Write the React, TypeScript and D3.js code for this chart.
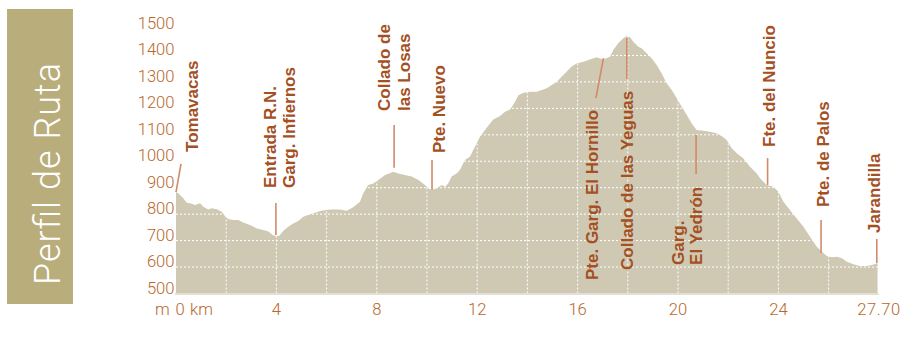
import React from "react";
import * as d3 from "d3";

// ---- data ----
const KM = [
  0.0, 0.09, 0.29, 0.43, 0.56, 0.76, 0.96, 1.09, 1.29, 1.42, 1.62, 1.82, 1.95, 2.08, 2.28, 2.48, 2.68, 2.95,
  3.22, 3.48, 3.68, 3.85, 3.98, 4.12, 4.27, 4.47, 4.67, 4.87, 5.07, 5.34, 5.61, 5.74, 6.14, 6.53, 6.8, 7.06,
  7.33, 7.46, 7.66, 7.86, 8.06, 8.33, 8.66, 8.86, 9.12, 9.39, 9.66, 9.92, 10.05, 10.19, 10.39, 10.59, 10.72,
  10.85, 10.98, 11.18, 11.31, 11.51, 11.71, 11.91, 12.11, 12.31, 12.51, 12.64, 12.91, 13.11, 13.31, 13.51,
  13.64, 13.84, 14.1, 14.37, 14.57, 14.77, 14.97, 15.17, 15.37, 15.57, 15.76, 15.96, 16.23, 16.49, 16.76,
  17.02, 17.29, 17.42, 17.62, 17.82, 17.96, 18.09, 18.22, 18.42, 18.55, 18.75, 18.95, 19.15, 19.35, 19.55,
  19.75, 19.95, 20.15, 20.35, 20.55, 20.74, 21.01, 21.27, 21.54, 21.74, 21.94, 22.14, 22.34, 22.6, 22.87,
  23.14, 23.27, 23.53, 23.8, 24.0, 24.2, 24.46, 24.73, 24.99, 25.26, 25.53, 25.73, 25.93, 26.13, 26.33,
  26.53, 26.73, 26.99, 27.25, 27.52, 27.72, 27.95,
];
const ELEV = [
  883, 879, 860, 843, 841, 835, 841, 828, 818, 822, 819, 809, 793, 782, 778, 778, 768, 759,
  746, 740, 734, 721, 717, 718, 736, 752, 765, 774, 790, 800, 807, 812, 818, 818, 813, 826,
  847, 879, 910, 916, 929, 948, 960, 954, 948, 942, 929, 910, 898, 891, 898, 910, 904,
  917, 942, 954, 967, 1005, 1017, 1055, 1093, 1118, 1143, 1158, 1171, 1187, 1196, 1225,
  1250, 1259, 1263, 1263, 1269, 1276, 1288, 1301, 1320, 1339, 1358, 1370, 1376, 1385, 1393,
  1385, 1395, 1421, 1446, 1465, 1474, 1469, 1452, 1433, 1427, 1408, 1389, 1364, 1332, 1295,
  1269, 1238, 1206, 1175, 1143, 1118, 1115, 1112, 1106, 1095, 1080, 1049, 1030, 1011, 979,
  954, 936, 910, 904, 885, 847, 816, 784, 753, 715, 677, 658, 642, 637, 639,
  633, 620, 611, 604, 604, 608, 614,
];
const Y_TICKS = [500, 600, 700, 800, 900, 1000, 1100, 1200, 1300, 1400, 1500];
const X_TICKS = [4, 8, 12, 16, 20, 24];
const X_GRID = [2, 4, 6, 8, 10, 12, 14, 16, 18, 20, 22, 24, 26];
const Y_GRID = [600, 700, 800, 900, 1000, 1100, 1200, 1300, 1400];
const END_LABEL = "27.70";
const TITLE = "Perfil de Ruta";

const WAYPOINT_NAMES = [
  ["Tomavacas"],
  ["Entrada R.N.", "Garg. Infiernos"],
  ["Collado de", "las Losas"],
  ["Pte. Nuevo"],
  ["Pte. Garg. El Hornillo"],
  ["Collado de las Yeguas"],
  ["Garg.", "El Yedrón"],
  ["Fte. del Nuncio"],
  ["Pte. de Palos"],
  ["Jarandilla"],
];

// ---- layout (label anchor and leader ends, in chart units) ----
const LABEL_POS = [
  { km: 0.857, m: 1035, pitch: 19 },
  { km: 4.0, m: 899, pitch: 19 },
  { km: 8.51, m: 1190, pitch: 20 },
  { km: 10.7, m: 1031, pitch: 19 },
  { km: 16.83, m: 551, pitch: 19 },
  { km: 18.19, m: 589, pitch: 19 },
  { km: 20.24, m: 608, pitch: 18 },
  { km: 23.86, m: 1054, pitch: 19 },
  { km: 26.0, m: 827, pitch: 19 },
  { km: 28.05, m: 729, pitch: 19 },
];
const LEADERS = [
  { km1: 0.0, m1: 883, km2: 0.2, m2: 990 },
  { km1: 3.98, m1: 842, km2: 3.98, m2: 721 },
  { km1: 8.69, m1: 1137, km2: 8.69, m2: 975 },
  { km1: 10.2, m1: 1005, km2: 10.2, m2: 891 },
  { km1: 16.73, m1: 1239, km2: 17.03, m2: 1390 },
  { km1: 17.96, m1: 1466, km2: 17.96, m2: 1311 },
  { km1: 20.72, m1: 1099, km2: 20.72, m2: 952 },
  { km1: 23.57, m1: 1012, km2: 23.57, m2: 910 },
  { km1: 25.7, m1: 778, km2: 25.7, m2: 653 },
  { km1: 27.92, m1: 706, km2: 27.92, m2: 615 },
];

const W = 913;
const H = 341;
const X0 = 176;
const PX_PER_KM = 25.1;
const Y_BASE = 293.5;
const Y_TOP = 29;

const TICK_COLOR = "#b8672a";
const LABEL_COLOR = "#a4501f";
const LEADER_COLOR = "#d38a68";
const AREA_COLOR = "#cfc9b4";
const BOX_COLOR = "#b9ad7c";
const TICK_FONT = "Roboto, 'Liberation Sans', sans-serif";
const LABEL_FONT = "'Liberation Sans', Arial, sans-serif";
const TICK_SIZE = 16.6;

export default function App() {
  const x = d3.scaleLinear().domain([0, 28]).range([X0, X0 + 28 * PX_PER_KM]);
  const y = d3.scaleLinear().domain([500, 1500]).range([Y_BASE, Y_TOP]);
  const pts = KM.map((k, i) => [k, ELEV[i]] as [number, number]);
  const area = d3
    .area<[number, number]>()
    .x((d) => x(d[0]))
    .y0(y(500))
    .y1((d) => y(d[1]))(pts) as string;
  const xEnd = x(KM[KM.length - 1]);

  return (
    <div style={{ position: "absolute", left: 0, top: 0 }}>
      <svg width={W} height={H} style={{ display: "block", background: "#fff" }}>
        {/* title box */}
        <rect x={7} y={9} width={66} height={295} fill={BOX_COLOR} />
        <text
          transform={`translate(60,285) rotate(-90)`}
          fill="#fff"
          fontFamily={TICK_FONT}
          fontWeight={300}
          fontSize={36}
          textLength={222}
        >
          {TITLE}
        </text>

        {/* profile */}
        <path d={area} fill={AREA_COLOR} />

        {/* grid */}
        {Y_GRID.map((v) => (
          <line key={"gy" + v} x1={x(0)} x2={xEnd} y1={y(v)} y2={y(v)} stroke="#fff" strokeWidth={1} strokeDasharray="2,2" />
        ))}
        {X_GRID.map((k) => (
          <line key={"gx" + k} x1={x(k)} x2={x(k)} y1={y(500)} y2={y(1500)} stroke="#fff" strokeWidth={1} strokeDasharray="2,2" />
        ))}

        {/* baseline axis */}
        <line x1={x(0) - 1} x2={xEnd + 1} y1={y(500) + 0.5} y2={y(500) + 0.5} stroke="#e4dfd4" strokeWidth={2} />

        {/* y tick labels */}
        {Y_TICKS.map((v) => (
          <text key={"yt" + v} x={174.5} y={y(v)} textAnchor="end" fill={TICK_COLOR} fontFamily={TICK_FONT} fontWeight={300} fontSize={TICK_SIZE}>
            {v}
          </text>
        ))}

        {/* x tick labels */}
        <text x={155} y={315} fill={TICK_COLOR} fontFamily={TICK_FONT} fontWeight={300} fontSize={TICK_SIZE}>m</text>
        <text x={x(0) + 4} y={315} textAnchor="middle" fill={TICK_COLOR} fontFamily={TICK_FONT} fontWeight={300} fontSize={TICK_SIZE}>0</text>
        <text x={190} y={315} fill={TICK_COLOR} fontFamily={TICK_FONT} fontWeight={300} fontSize={TICK_SIZE}>km</text>
        {X_TICKS.map((k) => (
          <text key={"xt" + k} x={x(k)} y={315} textAnchor="middle" fill={TICK_COLOR} fontFamily={TICK_FONT} fontWeight={300} fontSize={TICK_SIZE}>
            {k}
          </text>
        ))}
        <text x={xEnd + 1.5} y={315} textAnchor="middle" fill={TICK_COLOR} fontFamily={TICK_FONT} fontWeight={300} fontSize={TICK_SIZE} letterSpacing={0.6}>
          {END_LABEL}
        </text>

        {/* leaders */}
        {LEADERS.map((l, i) => (
          <line key={"ld" + i} x1={x(l.km1)} y1={y(l.m1)} x2={x(l.km2)} y2={y(l.m2)} stroke={LEADER_COLOR} strokeWidth={1.6} />
        ))}

        {/* waypoint labels */}
        {WAYPOINT_NAMES.map((lines, i) => {
          const p = LABEL_POS[i];
          return lines.map((t, j) => (
            <text
              key={"wl" + i + "_" + j}
              transform={`translate(${x(p.km) + j * p.pitch},${y(p.m)}) rotate(-90)`}
              fill={LABEL_COLOR}
              fontFamily={LABEL_FONT}
              fontWeight={700}
              fontSize={17}
            >
              {t}
            </text>
          ));
        })}
      </svg>
    </div>
  );
}
